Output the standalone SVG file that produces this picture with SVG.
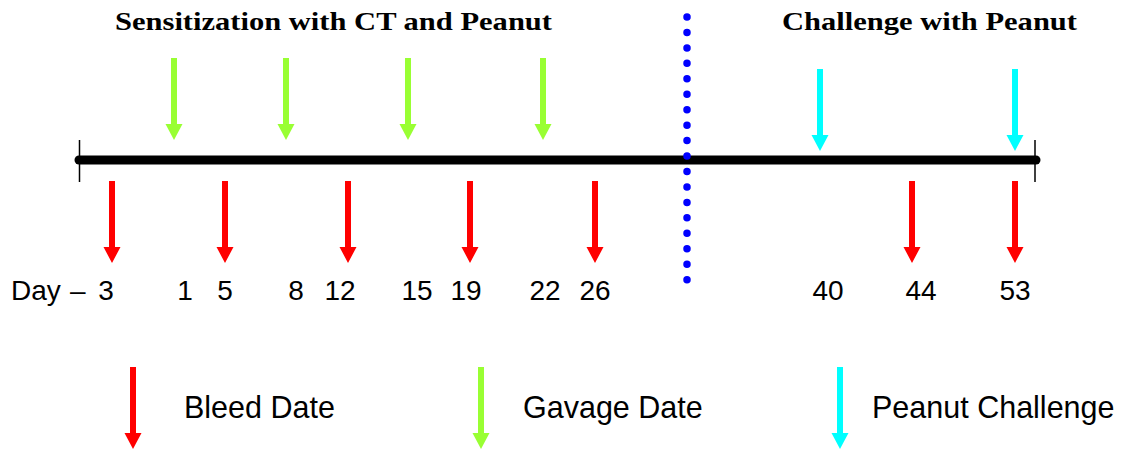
<svg xmlns="http://www.w3.org/2000/svg" xmlns:xlink="http://www.w3.org/1999/xlink" width="1124" height="450" viewBox="0 0 1124 450">
<style>
.red{fill:#FF0000}
.green{fill:#99FF33}
.cyan{fill:#00FFFF}
.lbl{font-family:"Liberation Sans",Arial,sans-serif;font-size:28px;fill:#000}
.leg{font-family:"Liberation Sans",Arial,sans-serif;font-size:30.5px;fill:#000}
.num{font-family:"Liberation Sans",Arial,sans-serif;font-size:28px;fill:#000;text-anchor:middle}
.title{font-family:"Liberation Serif","Times New Roman",serif;font-weight:bold;font-size:25px;fill:#000}
</style>
<defs>
<path id="arr" d="M-3,0 H3 V66 H8.5 L0,82 L-8.5,66 H-3 Z"/>
</defs>
<rect width="1124" height="450" fill="#fff"/>
<g id="titles">
<text class="title" x="115" y="30" textLength="437" lengthAdjust="spacingAndGlyphs">Sensitization with CT and Peanut</text>
<text class="title" x="782" y="30" textLength="295" lengthAdjust="spacingAndGlyphs">Challenge with Peanut</text>
</g>
<g id="timeline">
<line x1="79" y1="160" x2="1036" y2="160" stroke="#000" stroke-width="9" stroke-linecap="round"/>
<line x1="79.5" y1="140" x2="79.5" y2="182" stroke="#000" stroke-width="1.5"/>
<line x1="1035" y1="140" x2="1035" y2="182" stroke="#000" stroke-width="1.5"/>
</g>
<g id="divider">
<line x1="687" y1="17" x2="687" y2="280" stroke="#0000FF" stroke-width="7.5" stroke-linecap="round" stroke-dasharray="0 15.45"/>
</g>
<g id="connectors">
<g id="bleed-arrows" class="red">
<use xlink:href="#arr" x="112" y="181"/>
<use xlink:href="#arr" x="225" y="181"/>
<use xlink:href="#arr" x="348" y="181"/>
<use xlink:href="#arr" x="470" y="181"/>
<use xlink:href="#arr" x="595" y="181"/>
<use xlink:href="#arr" x="912" y="181"/>
<use xlink:href="#arr" x="1015" y="181"/>
</g>
<g id="gavage-arrows" class="green">
<use xlink:href="#arr" x="174" y="58"/>
<use xlink:href="#arr" x="286" y="58"/>
<use xlink:href="#arr" x="408" y="58"/>
<use xlink:href="#arr" x="543" y="58"/>
</g>
<g id="challenge-arrows" class="cyan">
<use xlink:href="#arr" x="820" y="69"/>
<use xlink:href="#arr" x="1015" y="69"/>
</g>
</g>
<g id="days">
<text class="lbl" x="11" y="300">Day</text>
<text class="lbl" x="70" y="300">–</text>
<text class="num" x="106" y="300">3</text>
<text class="num" x="185" y="300">1</text>
<text class="num" x="225" y="300">5</text>
<text class="num" x="296" y="300">8</text>
<text class="num" x="340" y="300">12</text>
<text class="num" x="417" y="300">15</text>
<text class="num" x="466" y="300">19</text>
<text class="num" x="545" y="300">22</text>
<text class="num" x="595" y="300">26</text>
<text class="num" x="828" y="300">40</text>
<text class="num" x="921" y="300">44</text>
<text class="num" x="1015" y="300">53</text>
</g>
<g id="legend-bleed">
<use xlink:href="#arr" x="133" y="367" class="red"/>
<text class="leg" x="184" y="418">Bleed Date</text>
</g>
<g id="legend-gavage">
<use xlink:href="#arr" x="481" y="367" class="green"/>
<text class="leg" x="523" y="418">Gavage Date</text>
</g>
<g id="legend-challenge">
<use xlink:href="#arr" x="840" y="367" class="cyan"/>
<text class="leg" x="872" y="418">Peanut Challenge</text>
</g>
</svg>
